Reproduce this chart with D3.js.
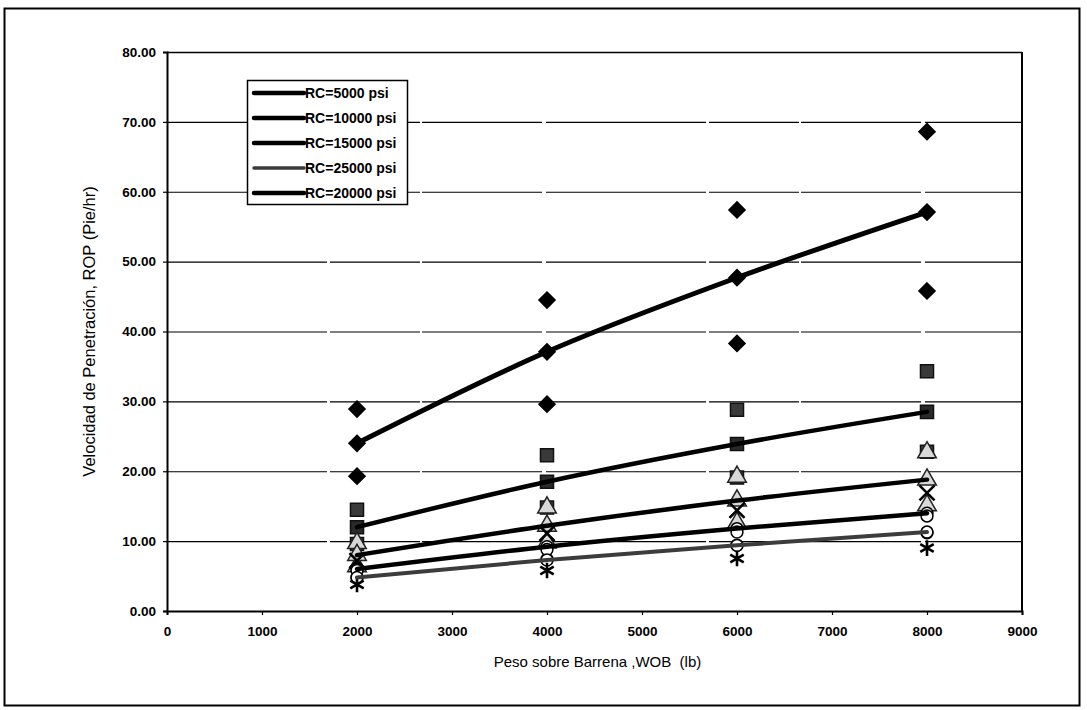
<!DOCTYPE html>
<html>
<head>
<meta charset="utf-8">
<script src="https://cdn.jsdelivr.net/npm/d3@7"></script>
<style>
  html, body { margin: 0; padding: 0; background: #fff; }
  svg { display: block; font-family: "Liberation Sans", Arial, sans-serif; }
</style>
</head>
<body>
<svg id="chart" width="1087" height="710"></svg>
<script>
// Weight on bit (lb) at which each rate was computed
const wob = [2000, 4000, 6000, 8000];

// Fitted ROP curves (ft/hr) for each rock compressive strength
const fit5000  = [24.0, 37.1, 47.7, 57.1];
const fit10000 = [12.0, 18.5, 23.9, 28.5];
const fit15000 = [8.0, 12.2, 15.8, 18.8];
const fit20000 = [6.0, 9.2, 11.8, 14.0];
const fit25000 = [4.8, 7.3, 9.4, 11.3];

// Upper and lower scatter points around each curve
const hi5000  = [28.9, 44.5, 57.4, 68.6];
const lo5000  = [19.3, 29.6, 38.3, 45.8];
const hi10000 = [14.5, 22.3, 28.8, 34.3];
const lo10000 = [9.6, 14.8, 19.1, 22.8];
const hi15000 = [9.7, 14.8, 19.2, 22.7];
const lo15000 = [6.4, 9.8, 12.6, 15.1];
const hi20000 = [7.2, 11.1, 14.4, 16.9];
const lo20000 = [4.8, 7.4, 9.4, 11.2];
const hi25000 = [5.8, 8.8, 11.3, 13.6];
const lo25000 = [3.8, 5.8, 7.5, 9.0];

// Legend order as printed
const legendLabels = ["RC=5000 psi", "RC=10000 psi", "RC=15000 psi", "RC=25000 psi", "RC=20000 psi"];
const legendCurves = [fit5000, fit10000, fit15000, fit25000, fit20000];

const yTicks = [0, 10, 20, 30, 40, 50, 60, 70, 80];
const xTicks = [0, 1000, 2000, 3000, 4000, 5000, 6000, 7000, 8000, 9000];

const svg = d3.select("#chart");

const plot = { left: 167, right: 1022, top: 52, bottom: 611 };
const x = d3.scaleLinear().domain([0, 9000]).range([plot.left, plot.right]);
const y = d3.scaleLinear().domain([0, 80]).range([plot.bottom, plot.top]);

// Outer chart frame
svg.append("rect")
  .attr("x", 4.5).attr("y", 8.5).attr("width", 1075).attr("height", 697)
  .attr("fill", "none").attr("stroke", "#000").attr("stroke-width", 2);

// Horizontal gridlines
svg.append("g").selectAll("line")
  .data(yTicks.filter(t => t > 0 && t < 80))
  .join("line")
  .attr("x1", plot.left).attr("x2", plot.right)
  .attr("y1", d => y(d) + 0.5).attr("y2", d => y(d) + 0.5)
  .attr("stroke", "#000").attr("stroke-width", 1.2)
  .attr("stroke-dasharray", "160,3,90,2,120,4");

// Plot area border (top and right)
svg.append("line")
  .attr("x1", plot.left).attr("x2", plot.right)
  .attr("y1", plot.top + 0.5).attr("y2", plot.top + 0.5)
  .attr("stroke", "#000").attr("stroke-width", 1.4);
svg.append("line")
  .attr("x1", plot.right).attr("x2", plot.right)
  .attr("y1", plot.top).attr("y2", plot.bottom)
  .attr("stroke", "#000").attr("stroke-width", 2);

// Axes
const yAxis = d3.axisLeft(y).tickValues(yTicks).tickFormat(d3.format(".2f")).tickSize(4).tickPadding(7);
const xAxis = d3.axisBottom(x).tickValues(xTicks).tickFormat(d3.format("d")).tickSize(4).tickPadding(11);

const gy = svg.append("g").attr("transform", `translate(${plot.left},0)`).call(yAxis);
const gx = svg.append("g").attr("transform", `translate(0,${plot.bottom})`).call(xAxis);
[gx, gy].forEach(g => {
  g.select(".domain").attr("stroke", "#000").attr("stroke-width", 2);
  g.selectAll(".tick line").attr("stroke", "#000").attr("stroke-width", 1.2);
  g.selectAll(".tick text")
    .attr("fill", "#000")
    .attr("font-size", 13.5)
    .attr("font-weight", "bold")
    .attr("font-family", "'Liberation Sans', Arial, sans-serif");
});

// Axis titles
svg.append("text")
  .attr("transform", `translate(${plot.left - 72},${(plot.top + plot.bottom) / 2}) rotate(-90)`)
  .attr("text-anchor", "middle")
  .attr("font-size", 16.5)
  .text("Velocidad de Penetración, ROP (Pie/hr)");
svg.append("text")
  .attr("x", (plot.left + plot.right) / 2 + 3)
  .attr("y", 667)
  .attr("text-anchor", "middle")
  .attr("font-size", 15)
  .style("white-space", "pre")
  .text("Peso sobre Barrena ,WOB  (lb)");

// Square rotated 45° so the diamond is as wide as it is tall
const diamond = {
  draw(context, size) {
    const r = Math.sqrt(size / 2);
    context.moveTo(0, -r);
    context.lineTo(r, 0);
    context.lineTo(0, r);
    context.lineTo(-r, 0);
    context.closePath();
  }
};

// Marker series: each RC has an upper, central and lower set of points
const markerSeries = [
  { vals: hi5000,  shape: diamond, size: 130, fill: "#000", stroke: "#000" },
  { vals: fit5000, shape: diamond, size: 130, fill: "#000", stroke: "#000" },
  { vals: lo5000,  shape: diamond, size: 130, fill: "#000", stroke: "#000" },
  { vals: lo10000, shape: d3.symbolSquare, size: 170, fill: "#3a3a3a", stroke: "#111" },
  { vals: hi10000, shape: d3.symbolSquare, size: 170, fill: "#3a3a3a", stroke: "#111" },
  { vals: fit10000, shape: d3.symbolSquare, size: 170, fill: "#2a2a2a", stroke: "#111" },
  { vals: lo15000, shape: d3.symbolTriangle, size: 150, fill: "#d8d8d8", stroke: "#222" },
  { vals: hi15000, shape: d3.symbolTriangle, size: 150, fill: "#d8d8d8", stroke: "#222" },
  { vals: fit15000, shape: d3.symbolTriangle, size: 150, fill: "#d8d8d8", stroke: "#222" },
  { vals: hi20000, shape: d3.symbolTimes, size: 150, fill: "none", stroke: "#000" },
  { vals: fit20000, shape: d3.symbolCircle, size: 110, fill: "#fff", stroke: "#000" },
  { vals: lo20000, shape: d3.symbolCircle, size: 110, fill: "#fff", stroke: "#000" },
  { vals: hi25000, shape: d3.symbolCircle, size: 110, fill: "#fff", stroke: "#000" },
  { vals: fit25000, shape: d3.symbolCircle, size: 110, fill: "#fff", stroke: "#000" },
  { vals: lo25000, shape: d3.symbolAsterisk, size: 170, fill: "none", stroke: "#000" }
];

const gm = svg.append("g");
markerSeries.forEach(s => {
  gm.append("g").selectAll("path")
    .data(s.vals.map((v, i) => [wob[i], v]))
    .join("path")
    .attr("transform", d => `translate(${x(d[0])},${y(d[1])})`)
    .attr("d", d3.symbol().type(s.shape).size(s.size))
    .attr("fill", s.fill)
    .attr("stroke", s.stroke)
    .attr("stroke-width", s.fill === "none" ? 2.6 : 1.5);
});

// Fitted curves
const curve = d3.line()
  .x((d, i) => x(wob[i]))
  .y(d => y(d))
  .curve(d3.curveMonotoneX);

const curveStyles = [
  { vals: fit5000,  color: "#000", width: 5 },
  { vals: fit10000, color: "#000", width: 4.5 },
  { vals: fit15000, color: "#000", width: 4.5 },
  { vals: fit20000, color: "#000", width: 4.5 },
  { vals: fit25000, color: "#3c3c3c", width: 4 }
];
svg.append("g").selectAll("path")
  .data(curveStyles)
  .join("path")
  .attr("d", d => curve(d.vals))
  .attr("fill", "none")
  .attr("stroke", d => d.color)
  .attr("stroke-width", d => d.width)
  .attr("stroke-linecap", "round");

// Legend
const legend = svg.append("g").attr("transform", "translate(247,80)");
legend.append("rect")
  .attr("x", 0.5).attr("y", 0.5).attr("width", 160).attr("height", 124)
  .attr("fill", "#fff").attr("stroke", "#000").attr("stroke-width", 1.5);
const items = legend.selectAll("g.item")
  .data(legendLabels)
  .join("g")
  .attr("class", "item")
  .attr("transform", (d, i) => `translate(0,${13 + i * 25})`);
items.append("line")
  .attr("x1", 7).attr("x2", 57).attr("y1", 0).attr("y2", 0)
  .attr("stroke", (d, i) => legendCurves[i] === fit25000 ? "#3c3c3c" : "#000")
  .attr("stroke-width", (d, i) => legendCurves[i] === fit25000 ? 3.5 : 4.5)
  .attr("stroke-linecap", "round");
items.append("text")
  .attr("x", 58).attr("y", 5)
  .attr("font-size", 14)
  .attr("font-weight", "bold")
  .text(d => d);
</script>
</body>
</html>
